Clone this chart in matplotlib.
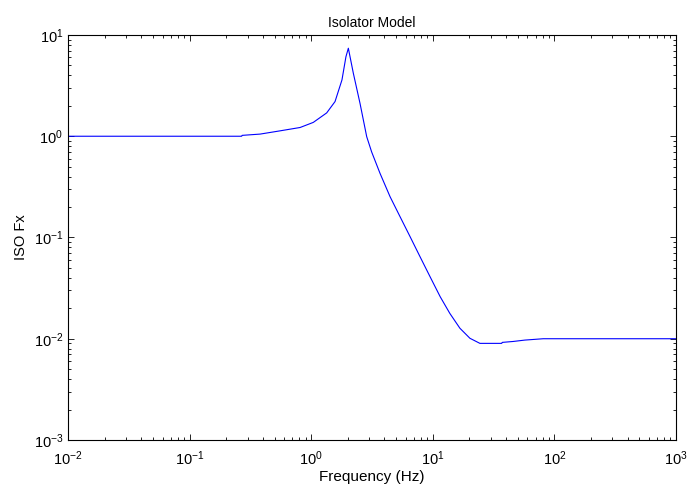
import matplotlib
matplotlib.use("Agg")
import matplotlib.pyplot as plt
from matplotlib.ticker import LogLocator, NullFormatter

# values
freq = [0.01, 0.268, 0.27, 0.38, 0.553, 0.81, 1.04, 1.34, 1.57, 1.79, 1.93, 2.02,
        2.22, 2.52, 2.86, 3.14, 3.68, 4.45, 5.37, 6.50, 7.85, 9.49, 11.5,
        13.8, 16.7, 20.2, 24.4, 36.9, 37.2, 45.9, 57.3, 81.0, 1000.0]
iso_fx = [1.0, 1.0, 1.02, 1.05, 1.13, 1.22, 1.37, 1.70, 2.20, 3.60, 6.1, 7.4,
          4.19, 2.11, 0.99, 0.70, 0.43, 0.253, 0.161, 0.102, 0.0646, 0.041, 0.026,
          0.0178, 0.0127, 0.0101, 0.0090, 0.0090, 0.0092, 0.0094, 0.0097, 0.0100, 0.0100]

plt.rcParams['font.family'] = ['Liberation Sans', 'DejaVu Sans']
plt.rcParams['mathtext.fontset'] = 'custom'
plt.rcParams['mathtext.rm'] = 'Liberation Sans'

fig = plt.figure(figsize=(6.9, 4.88), dpi=100)
ax = fig.add_axes([0.0986, 0.0984, 0.9797 - 0.0986, 0.9283 - 0.0984])

ax.loglog(freq, iso_fx, color='blue', linewidth=0.8)

ax.set_xlim(1e-2, 1e3)
ax.set_ylim(1e-3, 1e1)
ax.xaxis.set_major_locator(LogLocator(base=10, numticks=10))
ax.yaxis.set_major_locator(LogLocator(base=10, numticks=10))
ax.xaxis.set_minor_locator(LogLocator(base=10, subs=range(2, 10), numticks=20))
ax.yaxis.set_minor_locator(LogLocator(base=10, subs=range(2, 10), numticks=20))
ax.xaxis.set_minor_formatter(NullFormatter())
ax.yaxis.set_minor_formatter(NullFormatter())

ax.tick_params(which='both', direction='in', top=True, right=True, labelsize=10.5)
ax.tick_params(which='major', length=4, width=0.6)
ax.tick_params(which='minor', length=2, width=0.6)
ax.tick_params(axis='x', which='major', pad=7)
for s in ax.spines.values():
    s.set_linewidth(0.8)

ax.set_title("Isolator Model", fontsize=10)
ax.set_xlabel("Frequency (Hz)", fontsize=11, labelpad=1)
ax.set_ylabel("ISO Fx", fontsize=10.5)

fig.savefig("out.png", dpi=100)
